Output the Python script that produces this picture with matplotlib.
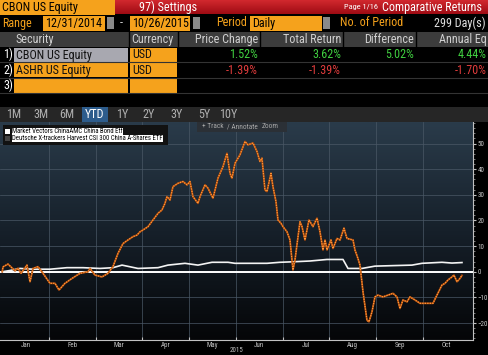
import numpy as np
import matplotlib
matplotlib.use("Agg")
from matplotlib import pyplot as plt
from matplotlib.patches import Rectangle
from matplotlib.colors import LinearSegmentedColormap
from matplotlib.ticker import MultipleLocator

plt.rcParams['font.family'] = ['Roboto Condensed', 'DejaVu Sans']

# header table
securities = ["CBON US Equity", "ASHR US Equity", ""]
currencies = ["USD", "USD", ""]
columns = ["Price Change", "Total Return", "Difference", "Annual Eq"]
values = [["1.52%", "3.62%", "5.02%", "4.44%"],
          ["-1.39%", "-1.39%", "", "-1.70%"],
          ["", "", "", ""]]
buttons = ["1M", "3M", "6M", "YTD", "1Y", "2Y", "3Y", "5Y", "10Y"]

# chart data, x = months since 1 Jan 2015, y = % return
ashr_x = [0.0, 0.016, 0.123, 0.273, 0.337, 0.401, 0.529, 0.594, 0.658, 0.765, 0.872,
          1.021, 1.128, 1.214, 1.342, 1.492, 1.663, 1.834, 1.877, 1.984, 2.134, 2.262,
          2.369, 2.476, 2.583, 2.690, 2.797, 2.882, 2.947, 3.011, 3.118, 3.225, 3.332,
          3.417, 3.481, 3.524, 3.588, 3.652, 3.759, 3.866, 3.952, 4.016, 4.080, 4.187,
          4.230, 4.337, 4.401, 4.508, 4.615, 4.722, 4.807, 4.872, 4.914, 4.979, 5.086,
          5.193, 5.257, 5.364, 5.449, 5.513, 5.556, 5.620, 5.663, 5.749, 5.791, 5.856,
          5.898, 5.963, 6.005, 6.091, 6.155, 6.219, 6.262, 6.369, 6.412, 6.476, 6.561,
          6.647, 6.733, 6.797, 6.861, 6.904, 6.947, 7.032, 7.075, 7.161, 7.225, 7.310,
          7.374, 7.503, 7.545, 7.609, 7.652, 7.717, 7.802, 7.845, 7.909, 7.973, 8.037,
          8.144, 8.251, 8.358, 8.444, 8.508, 8.572, 8.658, 8.722, 8.829, 8.936, 9.086,
          9.214, 9.299, 9.406, 9.471, 9.535, 9.620, 9.663, 9.727, 9.791, 9.834]
ashr_y = [0.0, 1.9, 3.0, 0.4, 1.4, -0.6, 2.6, -3.9, 1.3, 2.0, -0.6,
          -4.5, -4.5, -7.1, -4.5, -2.6, -0.6, 0.0, 1.3, -1.3, -2.0, -0.6,
          2.0, 7.2, 11.0, 12.4, 13.7, 14.3, 15.6, 16.3, 17.6, 20.2, 22.8,
          24.1, 26.7, 29.3, 28.0, 33.2, 34.5, 35.2, 33.9, 35.2, 29.3, 26.7,
          29.3, 33.9, 32.6, 28.7, 36.5, 41.0, 46.2, 38.4, 36.5, 42.3, 45.6,
          50.8, 49.5, 50.2, 46.9, 43.0, 44.3, 31.9, 31.3, 38.4, 33.2, 27.3,
          20.2, 18.9, 17.6, 15.6, 12.4, 0.7, 4.6, 19.5, 17.6, 12.4, 20.2,
          17.6, 20.9, 15.6, 8.5, 12.4, 8.5, 12.4, 9.1, 13.0, 12.4, 17.0,
          13.0, 12.4, 8.5, 5.2, 2.6, -7.8, -18.9, -19.5, -15.6, -9.8, -9.1,
          -9.8, -9.1, -8.4, -9.8, -14.3, -11.0, -11.7, -9.8, -11.0, -12.3, -12.3,
          -12.3, -9.1, -5.2, -4.5, -3.2, -2.0, -1.3, -3.9, -2.6, -1.4]
cbon_x = [0.0, 0.166, 0.380, 0.658, 1.021, 1.385, 1.727, 2.091, 2.369, 2.562, 2.904,
          3.332, 3.545, 3.909, 4.187, 4.487, 4.829, 4.979, 5.299, 5.663, 5.941, 6.219,
          6.583, 6.947, 7.289, 7.396, 7.695, 7.973, 8.358, 8.765, 8.979, 9.406, 9.620,
          9.834]
cbon_y = [0.0, 0.5, 1.3, 1.0, 1.0, 1.6, 1.6, 1.3, 1.6, 2.6, 1.3,
          1.6, 2.6, 3.3, 2.6, 3.7, 3.7, 3.3, 3.3, 3.3, 3.7, 3.9,
          4.2, 4.8, 4.8, 1.3, 1.3, 2.2, 2.4, 2.6, 3.3, 3.7, 3.4,
          3.6]
months = ["Jan", "Feb", "Mar", "Apr", "May", "Jun", "Jul", "Aug", "Sep", "Oct"]
names = ["Market Vectors ChinaAMC China Bond Etf",
         "Deutsche X-trackers Harvest CSI 300 China A-Shares ETF"]

ORANGE = '#f5a21c'
FS = 8.7
fig = plt.figure(figsize=(4.88, 3.55), dpi=100, facecolor='black')

# ---- terminal panel, drawn in pixel coords
bg = fig.add_axes([0, 0, 1, 1])
bg.set_xlim(0, 488)
bg.set_ylim(355, 0)
bg.axis('off')

def box(x, y, w, h, c, **kw):
    bg.add_patch(Rectangle((x, y), w, h, facecolor=c, edgecolor='none', **kw))

# title row
box(0, 0, 115, 14.5, ORANGE)
bg.text(2, 7.5, "CBON US Equity", color='black', fontsize=FS, va='center')
red = np.linspace(0, 1, 20).reshape(-1, 1)
bg.imshow(red, extent=[115, 488, 14.5, 0], aspect='auto',
          cmap=LinearSegmentedColormap.from_list('r', ['#d42a30', '#a00c14']))
bg.text(168, 7.5, "97) Settings", color='white', fontsize=FS, va='center', ha='center')
bg.text(378, 7.5, "Page 1/16", color='white', fontsize=6, va='center', ha='right')
bg.text(382, 7.5, "Comparative Returns", color='white', fontsize=FS, va='center')

# range row
bg.text(2, 23, "Range", color=ORANGE, fontsize=FS, va='center')
box(43, 16, 62, 14.5, ORANGE)
bg.text(45, 23.5, "12/31/2014", color='black', fontsize=FS, va='center')
box(107, 17, 7, 12, '#8a8a8a')
bg.text(121, 23, "-", color='#d0d0d0', fontsize=FS, va='center', ha='center')
box(130, 16, 60, 14.5, ORANGE)
bg.text(132, 23.5, "10/26/2015", color='black', fontsize=FS, va='center')
box(193, 17, 7, 12, '#8a8a8a')
bg.text(216, 23, "Period", color=ORANGE, fontsize=FS, va='center')
box(250, 16, 72, 14.5, ORANGE)
bg.text(252, 23.5, "Daily", color='black', fontsize=FS, va='center')
box(323, 17, 7, 12, '#8a8a8a')
bg.text(340, 23, "No. of Period", color=ORANGE, fontsize=FS, va='center')
bg.text(486, 23, "299 Day(s)", color='#e0e0e0', fontsize=FS, va='center', ha='right')

# table header
box(0, 32, 488, 14.5, '#3c3c3c')
col_right = [258, 341, 414, 487]
for sx in [129, 178, 260, 343, 416]:
    bg.plot([sx, sx], [32, 46.5], color='black', lw=1)
bg.text(15, 39.5, "Security", color='#d0d0d0', fontsize=FS, va='center')
bg.text(131, 39.5, "Currency", color='#d0d0d0', fontsize=FS, va='center')
for cx, cname in zip(col_right, columns):
    bg.text(cx, 39.5, cname, color='#d0d0d0', fontsize=FS, va='center', ha='right')

row_top = [47, 62.5, 78]
for i, ry in enumerate(row_top):
    bg.text(13, ry + 7.5, f"{i + 1})", color='white', fontsize=FS, va='center', ha='right')
    box(14, ry + 0.5, 114, 14, '#a8a8b0' if i == 0 else ORANGE)
    box(130, ry + 0.5, 47, 14, ORANGE)
    bg.text(16, ry + 8, securities[i], color='#111111', fontsize=FS, va='center')
    bg.text(132, ry + 8, currencies[i], color='#111111', fontsize=FS, va='center')
    for cx, v in zip(col_right, values[i]):
        col = '#e03c3c' if v.startswith('-') else '#40d040'
        bg.text(cx, ry + 8, v, color=col, fontsize=FS, va='center', ha='right')
    bg.plot([0, 488], [ry + 15.2, ry + 15.2], color='#333333', lw=0.8)

# period buttons
box(0, 107, 488, 15, '#262626')
box(82, 107, 26, 15, '#2d5c8c')
btn_x = [14, 41, 67, 95, 122, 149, 177, 204, 228]
for bx, b in zip(btn_x, buttons):
    bg.text(bx, 115, b, color='white' if b == "YTD" else '#b0b0b0',
            fontsize=FS, va='center', ha='center')

# ---- chart
ax = fig.add_axes([0, 15 / 355, 473 / 488, 218 / 355])
ax.set_xlim(-0.048, 10.07)
ax.set_ylim(-26.6, 58.4)
grad = np.linspace(1, 0, 100).reshape(-1, 1)
ax.imshow(grad, extent=[-0.048, 10.07, -26.6, 58.4], aspect='auto', zorder=0,
          cmap=LinearSegmentedColormap.from_list('b', ['#050608', '#16202a', '#2a3b4a']))

ax.set_xticks(range(1, 10))
ax.set_xticks([m + 0.5 for m in range(10)], minor=True)
ax.set_xticklabels([])
ax.set_xticklabels(months, minor=True)
ax.tick_params(axis='x', which='minor', length=0, labelsize=5, labelcolor='#c0c0c0', pad=1.5)
ax.tick_params(axis='x', which='major', direction='in', length=2.5, color='#c0c0c0')
ax.yaxis.tick_right()
ax.set_yticks(range(-20, 51, 10))
ax.yaxis.set_minor_locator(MultipleLocator(2))
ax.tick_params(axis='y', which='major', direction='out', length=2.5, color='#c0c0c0',
               labelsize=5, labelcolor='#c8c8c8', pad=1)
ax.tick_params(axis='y', which='minor', direction='out', length=1.2, color='#909090')
ax.grid(True, which='major', color='#4a5866', lw=0.5, zorder=1)
for s in ['top', 'left']:
    ax.spines[s].set_visible(False)
for s in ['right', 'bottom']:
    ax.spines[s].set_color('#c0c0c0')
    ax.spines[s].set_linewidth(0.8)
ax.text(0.5, -0.03, "2015", transform=ax.transAxes, ha='center', va='top',
        fontsize=5, color='#c0c0c0')

ax.axhline(0, color='white', lw=1.4, zorder=3)
ax.plot(cbon_x, cbon_y, color='#f4f4f4', lw=1.2, zorder=4)
ax.plot(ashr_x, ashr_y, color='#b04a0a', lw=1.3, zorder=5)
ax.plot(ashr_x, ashr_y, color='#ff9a3c', lw=0.9, linestyle=(0, (1, 1)), zorder=6)

# legend and toolbar overlay (pixel coords)
bg.set_zorder(ax.get_zorder() + 1)
bg.patch.set_visible(False)
box(3, 125, 165, 20, '#121212', zorder=10)
box(5, 129, 5, 5, 'white', zorder=11)
box(5, 136, 5, 5, '#444444', zorder=11)
for nm, ly in zip(names, [131.5, 138.5]):
    bg.text(12, ly, nm, color='black', fontsize=4.9, va='center', zorder=12,
            bbox=dict(facecolor='white', edgecolor='none', pad=0.3))
box(197, 122, 90, 10, '#2b3036', zorder=10)
bg.text(202, 127, "+ Track", color='#a8a8a8', fontsize=5.2, va='center', zorder=11)
bg.text(227, 127, "/ Annotate", color='#a8a8a8', fontsize=5.2, va='center', zorder=11)
bg.text(262, 127, "Zoom", color='#a8a8a8', fontsize=5.2, va='center', zorder=11)

plt.savefig("out.png", dpi=100, facecolor='black')
